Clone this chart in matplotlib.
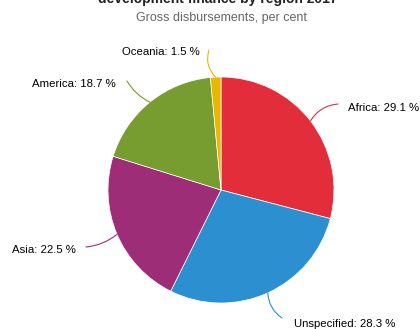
import numpy as np
import matplotlib
matplotlib.use("Agg")
import matplotlib.pyplot as plt

plt.rcParams['font.family'] = ['Liberation Sans', 'DejaVu Sans']

regions = ['Africa', 'Unspecified', 'Asia', 'America', 'Oceania']
shares = [29.1, 28.3, 22.5, 18.7, 1.5]
colors = ['#e32d3a', '#2b8fd0', '#9e2d78', '#779c2f', '#e6b800']

# label layout in pixels (text anchor x, y, ha) and where the connector ends
label_pos = [(348, 108, 'left'), (294, 324, 'left'), (76, 250, 'right'),
             (116, 84, 'right'), (200, 52, 'right')]
line_end = [(338, 104), (282, 318), (86, 247), (127, 81), (209, 50)]
rads = [0.25, -0.25, 0.15, 0.15, 0.3]

W, H = 420, 329
cx, cy, R = 221, 190, 113

fig = plt.figure(figsize=(W / 100, H / 100), dpi=100)
ax = fig.add_axes([0, 0, 1, 1])
ax.set_xlim(0, W)
ax.set_ylim(0, H)
ax.axis('off')

def py(y):
    return H - y

wedges, _ = ax.pie(shares, colors=colors, startangle=90, counterclock=False,
                   center=(cx, py(cy)), radius=R, normalize=True,
                   wedgeprops=dict(edgecolor='white', linewidth=0.5))
ax.set_aspect('equal')
ax.set_xlim(0, W)
ax.set_ylim(0, H)

for w, name, val, c, (tx, ty, ha), (lx, ly), rd in zip(
        wedges, regions, shares, colors, label_pos, line_end, rads):
    ang = np.deg2rad((w.theta1 + w.theta2) / 2)
    ex = cx + R * np.cos(ang)
    ey = py(cy) + R * np.sin(ang)
    ax.annotate('', xy=(ex, ey), xytext=(lx, py(ly)),
                arrowprops=dict(arrowstyle='-', color=c, lw=0.8,
                                shrinkA=0, shrinkB=0,
                                connectionstyle='arc3,rad=%s' % rd))
    ax.text(tx, py(ty), '%s: %.1f %%' % (name, val), ha=ha, va='center',
            fontsize=8.2, color='#000000')

ax.text(218, py(3), 'development finance by region 2017', ha='center',
        va='baseline', fontsize=10, fontweight='bold', color='#222222')
ax.text(221, py(18), 'Gross disbursements, per cent', ha='center',
        va='center', fontsize=9, color='#666666')

fig.savefig('out.png', dpi=100)
